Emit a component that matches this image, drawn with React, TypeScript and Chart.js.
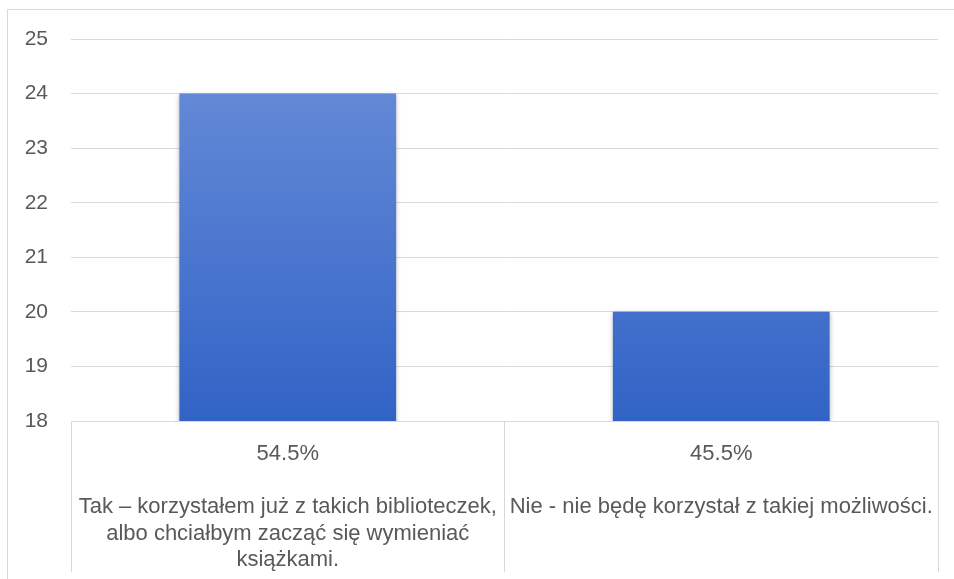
import React, { useEffect, useRef } from "react";
import { Chart, registerables } from "chart.js";

Chart.register(...registerables);

const categories: string[][] = [
  ["54.5%", "", "Tak – korzystałem już z takich biblioteczek,", "albo chciałbym zacząć się wymieniać", "książkami."],
  ["45.5%", "", "Nie - nie będę korzystał z takiej możliwości."],
];
const values: number[] = [24, 20];
const yMin = 18;
const yMax = 25;
const yStep = 1;

const FONT = "'Liberation Sans', Arial, sans-serif";
const GRID = "#d9d9d9";
const TEXT = "#595959";

const shadowPlugin = {
  id: "barShadow",
  beforeDatasetsDraw(chart: any) {
    const ctx = chart.ctx;
    ctx.save();
    ctx.shadowColor = "rgba(0,0,0,0.35)";
    ctx.shadowBlur = 5;
    ctx.shadowOffsetX = 0;
    ctx.shadowOffsetY = 1;
  },
  afterDatasetsDraw(chart: any) {
    chart.ctx.restore();
  },
};

export default function App() {
  const ref = useRef<HTMLCanvasElement | null>(null);
  useEffect(() => {
    if (!ref.current) return;
    const chart = new Chart(ref.current, {
      type: "bar",
      data: {
        labels: categories,
        datasets: [
          {
            data: values,
            backgroundColor: (c: any) => {
              const area = c.chart.chartArea;
              if (!area) return "#4472c4";
              const g = c.chart.ctx.createLinearGradient(0, area.top, 0, area.bottom);
              g.addColorStop(0, "#6b8fd9");
              g.addColorStop(1, "#3163c6");
              return g;
            },
            borderWidth: 0,
            categoryPercentage: 1,
            barPercentage: 0.5,
          },
        ],
      },
      plugins: [shadowPlugin],
      options: {
        animation: false,
        responsive: false,
        maintainAspectRatio: false,
        layout: { padding: { top: 39, right: 16, left: 0, bottom: 0 } },
        plugins: {
          legend: { display: false },
          tooltip: { enabled: false },
          title: { display: false },
        },
        scales: {
          x: {
            grid: {
              color: GRID,
              drawOnChartArea: false,
              drawTicks: true,
              tickLength: 151,
              offset: true,
            },
            border: { color: GRID },
            ticks: {
              color: TEXT,
              font: { family: FONT, size: 22, lineHeight: 1.2045 },
              padding: -131.25,
              maxRotation: 0,
              minRotation: 0,
              autoSkip: false,
            },
            afterFit: (s: any) => {
              s.height = 158;
            },
          },
          y: {
            min: yMin,
            max: yMax,
            ticks: {
              stepSize: yStep,
              color: TEXT,
              font: { family: FONT, size: 21 },
              padding: 23,
            },
            grid: { color: GRID, drawTicks: false },
            border: { display: false },
            afterFit: (s: any) => {
              s.width = 71;
            },
          },
        },
      },
    });
    return () => chart.destroy();
  }, []);
  return (
    <div style={{ position: "fixed", left: 0, top: 0, width: 954, height: 579, overflow: "hidden", background: "#fff" }}>
      <div
        style={{
          position: "absolute",
          left: 7,
          top: 9,
          width: 1000,
          height: 700,
          border: `1px solid ${GRID}`,
          boxSizing: "border-box",
        }}
      />
      <canvas ref={ref} width={954} height={579} style={{ position: "absolute", left: 0, top: 0 }} />
    </div>
  );
}
